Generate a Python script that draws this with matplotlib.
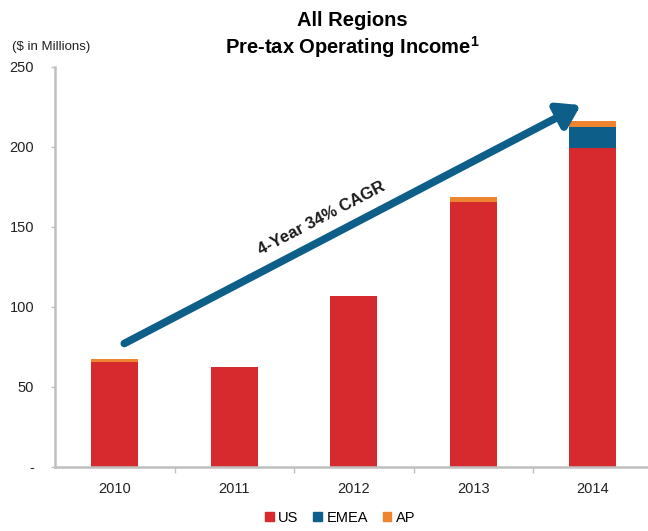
import matplotlib
matplotlib.use('Agg')
import matplotlib.pyplot as plt
from matplotlib.patches import Patch
import numpy as np

plt.rcParams['font.family'] = ['Liberation Sans', 'DejaVu Sans']
plt.rcParams['mathtext.fontset'] = 'custom'
plt.rcParams['mathtext.rm'] = 'Liberation Sans'
plt.rcParams['mathtext.bf'] = 'Liberation Sans:bold'

# Pre-tax operating income by region ($M)
years = ['2010', '2011', '2012', '2013', '2014']
us = [65.5, 62.5, 106.5, 165.5, 199]
emea = [0, 0, 0, 0, 13]
ap = [1.8, 0, 0, 3, 4]

y_ticks = [0, 50, 100, 150, 200, 250]
y_tick_labels = ['-', '50', '100', '150', '200', '250']

cagr_label = '4-Year 34% CAGR'
arrow_start = (0.08, 77)
arrow_end = (3.9, 226)

c_us = '#D62A2E'
c_emea = '#0D5F8A'
c_ap = '#EC8430'
c_axis = '#BFBFBF'

fig = plt.figure(figsize=(6.48, 5.31), dpi=100)
ax = fig.add_axes([55 / 648, 0.1211, 593 / 648, 0.7533])

x = np.arange(len(years))
w = 0.39
ax.bar(x, us, w, color=c_us, label='US')
ax.bar(x, emea, w, bottom=us, color=c_emea, label='EMEA')
ax.bar(x, ap, w, bottom=np.array(us) + np.array(emea), color=c_ap, label='AP')

ax.set_xlim(-0.5, -0.5 + 593 / 119.5)
ax.set_ylim(0, 250)

ax.set_yticks(y_ticks)
ax.set_yticklabels(y_tick_labels)
ax.set_xticks(x)
ax.set_xticklabels(years)
ax.set_xticks(x[:-1] + 0.5, minor=True)
ax.tick_params(axis='x', which='major', length=0, pad=11, labelsize=10.5, colors='#222222')
ax.tick_params(axis='x', which='minor', length=4, width=1, color=c_axis, direction='out')
ax.tick_params(axis='y', length=3, width=1, color=c_axis, pad=12, labelsize=10.5,
               labelcolor='#222222')

for s in ['top', 'right']:
    ax.spines[s].set_visible(False)
for s in ['left', 'bottom']:
    ax.spines[s].set_color(c_axis)
    ax.spines[s].set_linewidth(1.8)

# growth arrow with its label running along it
ax.annotate('', xy=arrow_end, xytext=arrow_start,
            arrowprops=dict(arrowstyle='-|>,head_length=0.65,head_width=0.42',
                            color=c_emea, lw=5.5, mutation_scale=20,
                            shrinkA=0, shrinkB=0))
fig.canvas.draw()
p0 = ax.transData.transform(arrow_start)
p1 = ax.transData.transform(arrow_end)
angle = np.degrees(np.arctan2(p1[1] - p0[1], p1[0] - p0[0]))
ax.text(1.73, 155, cagr_label, rotation=angle, rotation_mode='anchor',
        ha='center', va='center', fontsize=12, fontweight='bold', color='#1a1a1a')

fig.text(0.543, 0.962, 'All Regions', ha='center', va='center',
         fontsize=14.5, fontweight='bold')
fig.text(0.543, 0.912, 'Pre-tax Operating Income$^{\\mathbf{1}}$', ha='center',
         va='center', fontsize=14.5, fontweight='bold')
fig.text(0.018, 0.912, '($ in Millions)', ha='left', va='center', fontsize=9.5,
         color='#222222')

handles = [Patch(color=c_us, label='US'), Patch(color=c_emea, label='EMEA'),
           Patch(color=c_ap, label='AP')]
fig.legend(handles=handles, loc='center', bbox_to_anchor=(0.525, 0.025), ncol=3,
           frameon=False, fontsize=10.5, handlelength=0.6, handleheight=0.6,
           handletextpad=0.3, columnspacing=1.0)

fig.savefig('out.png', dpi=100)
